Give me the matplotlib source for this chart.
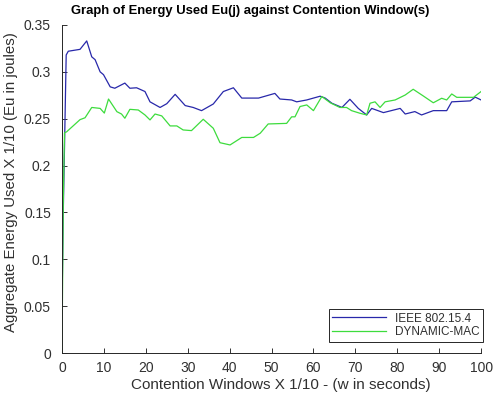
import numpy as np
import matplotlib.pyplot as plt

plt.rcParams['font.family'] = ['Liberation Sans', 'DejaVu Sans']

# contention window (x 1/10) and aggregate energy used (x 1/10)
ieee_w = [0, 0.3, 0.6, 1.0, 1.5, 4.3, 5.9, 7.1, 7.9, 9.1, 9.9, 11.5, 12.6, 15.0,
          16.2, 17.8, 19.8, 21.0, 23.4, 25.0, 27.0, 29.4, 31.3, 33.3, 36.1,
          38.5, 40.9, 42.9, 46.9, 50.8, 52.0, 54.8, 56.0, 58.4, 61.6, 62.8,
          64.4, 66.8, 68.7, 70.7, 72.7, 73.9, 76.7, 80.7, 81.9, 84.2, 85.8,
          88.6, 91.8, 93.0, 97.4, 98.6, 100.0]
ieee_eu = [0.05, 0.15, 0.22, 0.318, 0.322, 0.324, 0.333, 0.316, 0.313, 0.300,
           0.297, 0.284, 0.2825, 0.288, 0.2825, 0.283, 0.279, 0.268, 0.262,
           0.266, 0.276, 0.264, 0.262, 0.2586, 0.2657, 0.279, 0.283, 0.272,
           0.272, 0.277, 0.271, 0.270, 0.268, 0.270, 0.274, 0.272, 0.2665,
           0.262, 0.2707, 0.261, 0.254, 0.261, 0.2565, 0.261, 0.255, 0.2576,
           0.254, 0.2586, 0.2586, 0.268, 0.269, 0.273, 0.270]

dmac_w = [0, 0.3, 0.6, 1.1, 4.3, 5.5, 7.1, 9.1, 10.1, 11.1, 13.1, 14.2, 15.0,
          16.2, 18.2, 19.8, 21.0, 22.2, 23.8, 25.8, 27.4, 28.9, 30.9, 33.7,
          36.1, 37.7, 40.1, 42.9, 45.7, 47.3, 49.2, 53.6, 54.8, 55.6, 56.8,
          58.4, 60.0, 62.0, 64.0, 66.3, 67.9, 69.1, 71.1, 72.7, 73.5, 74.7,
          75.9, 77.1, 79.5, 81.9, 83.8, 86.2, 88.6, 90.6, 91.8, 93.0, 94.2,
          98.2, 100.0]
dmac_eu = [0.0, 0.16, 0.235, 0.236, 0.249, 0.251, 0.262, 0.261, 0.256, 0.271,
           0.2575, 0.255, 0.2505, 0.260, 0.2593, 0.254, 0.2487, 0.255, 0.253,
           0.2423, 0.2423, 0.238, 0.2373, 0.2494, 0.2398, 0.2244, 0.222,
           0.230, 0.230, 0.2345, 0.2444, 0.245, 0.252, 0.252, 0.263, 0.2647,
           0.2586, 0.2737, 0.267, 0.262, 0.262, 0.2586, 0.2558, 0.254, 0.2665,
           0.268, 0.262, 0.268, 0.270, 0.2753, 0.2814, 0.2743, 0.267, 0.2718,
           0.270, 0.2764, 0.2728, 0.2728, 0.279]

fig = plt.figure(figsize=(4.98, 4.01), dpi=100)
ax = fig.add_axes([0.1245, 0.1197, 0.8415, 0.818])

ax.plot(ieee_w, ieee_eu, color='#2828aa', lw=0.9, label='IEEE 802.15.4')
ax.plot(dmac_w, dmac_eu, color='#3ddc3d', lw=0.9, label='DYNAMIC-MAC')

ax.set_xlim(0, 100)
ax.set_ylim(0, 0.35)
ax.set_xticks(np.arange(0, 101, 10))
ax.set_yticks(np.arange(0, 0.351, 0.05))
ax.set_yticklabels(['0', '0.05', '0.1', '0.15', '0.2', '0.25', '0.3', '0.35'])

txt = '#303030'
for s in ['top', 'right']:
    ax.spines[s].set_visible(False)
for s in ['left', 'bottom']:
    ax.spines[s].set_color('#262626')
    ax.spines[s].set_linewidth(0.7)
ax.tick_params(direction='in', length=3.5, width=0.7, colors=txt, labelsize=10)
ax.tick_params(axis='y', pad=8)
ax.tick_params(axis='x', pad=6)

ax.set_title('Graph of Energy Used Eu(j) against Contention Window(s)',
             fontsize=9.4, fontweight='bold', color='black', x=0.45, pad=8)
ax.set_xlabel('Contention Windows X 1/10 - (w in seconds)', fontsize=11, color=txt)
ax.xaxis.set_label_coords(0.523, -0.076)
ax.set_ylabel('Aggregate Energy Used X 1/10 (Eu in joules)', fontsize=10.8, color=txt)
ax.yaxis.set_label_coords(-0.105, 0.52)

leg = ax.legend(loc='lower right', fontsize=8.5, fancybox=False, framealpha=1,
                edgecolor='#262626', handlelength=4.5, borderpad=0.3,
                labelspacing=0.15, borderaxespad=0, bbox_to_anchor=(1.005, 0.034))
leg.get_frame().set_linewidth(0.7)
for t in leg.get_texts():
    t.set_color(txt)

fig.savefig('out.png', dpi=100)
